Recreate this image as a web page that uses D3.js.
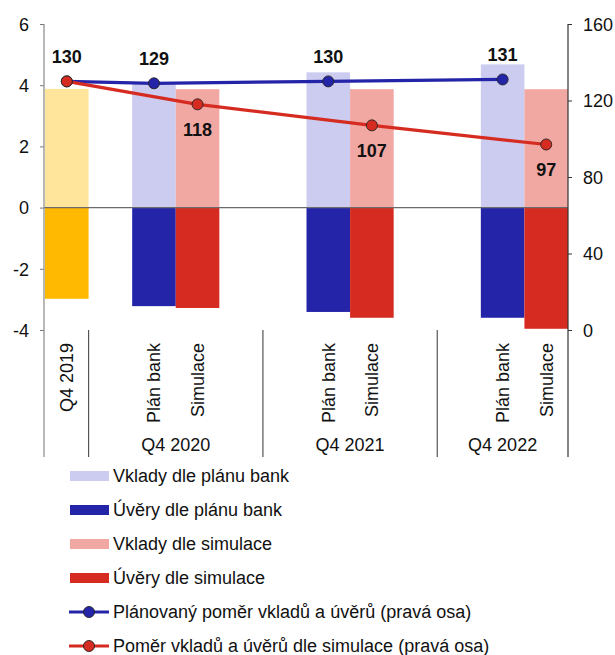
<!DOCTYPE html>
<html>
<head>
<meta charset="utf-8">
<script src="https://cdn.jsdelivr.net/npm/d3@7"></script>
<style>
  html, body { margin: 0; padding: 0; background: #fff; }
  svg { display: block; font-family: Arial, "Liberation Sans", sans-serif; }
</style>
</head>
<body>
<div id="chart"></div>
<script>
// Category slots along the x axis (12 equal bands, some left empty)
const slotLabels = ["Q4 2019", "", "Plán bank", "Simulace", "", "", "Plán bank", "Simulace", "", "", "Plán bank", "Simulace"];
const groupLabels = ["Q4 2020", "Q4 2021", "Q4 2022"];
const groupFirstSlot = [1, 5, 9];
const groupLastSlot = [4, 8, 11];

// Bars (left axis)
const baseSlot = 0;
const depositsBase = 3.88;
const loansBase = -2.98;
const planSlots = [2, 6, 10];
const simSlots = [3, 7, 11];
const depositsPlan = [4.05, 4.42, 4.68];
const loansPlan = [-3.22, -3.41, -3.60];
const depositsSim = [3.87, 3.87, 3.87];
const loansSim = [-3.28, -3.60, -3.96];

// Ratios (right axis)
const ratioPlanSlots = [0, 2, 6, 10];
const ratioPlan = [130, 129, 130, 131];
const ratioSimSlots = [0, 3, 7, 11];
const ratioSim = [130, 118, 107, 97];

const leftTicks = [-4, -2, 0, 2, 4, 6];
const rightTicks = [0, 40, 80, 120, 160];

const legendItems = [
  { label: "Vklady dle plánu bank", color: "#CCCCF0", type: "bar" },
  { label: "Úvěry dle plánu bank", color: "#2424A8", type: "bar" },
  { label: "Vklady dle simulace", color: "#F2A8A2", type: "bar" },
  { label: "Úvěry dle simulace", color: "#D62B20", type: "bar" },
  { label: "Plánovaný poměr vkladů a úvěrů (pravá osa)", color: "#2424A8", type: "line" },
  { label: "Poměr vkladů a úvěrů dle simulace (pravá osa)", color: "#D62B20", type: "line" }
];

const W = 615, H = 655;
const FS = 18;
const svg = d3.select("#chart").append("svg").attr("width", W).attr("height", H);

const x = d3.scaleBand().domain(d3.range(slotLabels.length)).range([45, 568]).padding(0);
const yL = d3.scaleLinear().domain([-4, 6]).range([330, 24]);
const yR = d3.scaleLinear().domain([0, 160]).range([330, 24]);
const axisBottom = 457;

function bar(slot, v, color) {
  svg.append("rect")
    .attr("x", x(slot))
    .attr("width", x.bandwidth())
    .attr("y", v >= 0 ? yL(v) : yL(0))
    .attr("height", Math.abs(yL(v) - yL(0)))
    .attr("fill", color);
}

bar(baseSlot, depositsBase, "#FFE49B");
bar(baseSlot, loansBase, "#FFB900");
planSlots.forEach((s, i) => { bar(s, depositsPlan[i], "#CCCCF0"); bar(s, loansPlan[i], "#2424A8"); });
simSlots.forEach((s, i) => { bar(s, depositsSim[i], "#F2A8A2"); bar(s, loansSim[i], "#D62B20"); });

// zero line
svg.append("line").attr("x1", 44).attr("x2", 568).attr("y1", yL(0)).attr("y2", yL(0))
  .attr("stroke", "#6b6b6b").attr("stroke-width", 1.2);

// left axis (plain hyphen for negatives)
const gL = svg.append("g").attr("transform", "translate(44,0)")
  .call(d3.axisLeft(yL).tickValues(leftTicks).tickSize(4).tickSizeOuter(0).tickFormat(d => String(d)));
gL.select(".domain").remove();
gL.selectAll("line").attr("stroke", "#777");
gL.selectAll("text").attr("font-size", FS).attr("font-family", "Arial, 'Liberation Sans', sans-serif")
  .attr("fill", "#111").attr("x", -15).attr("dy", "0.35em");
svg.append("line").attr("x1", 44).attr("x2", 44).attr("y1", 24).attr("y2", axisBottom)
  .attr("stroke", "#888").attr("stroke-width", 1.2);

// right axis
const gR = svg.append("g").attr("transform", "translate(568,0)")
  .call(d3.axisRight(yR).tickValues(rightTicks).tickSize(4).tickSizeOuter(0).tickFormat(d => String(d)));
gR.select(".domain").remove();
gR.selectAll("line").attr("stroke", "#333");
gR.selectAll("text").attr("font-size", FS).attr("font-family", "Arial, 'Liberation Sans', sans-serif")
  .attr("fill", "#111").attr("x", 15).attr("dy", "0.35em");
svg.append("line").attr("x1", 568).attr("x2", 568).attr("y1", 24).attr("y2", axisBottom)
  .attr("stroke", "#333").attr("stroke-width", 1.2);

// group separators
groupFirstSlot.forEach(s => {
  svg.append("line").attr("x1", x(s)).attr("x2", x(s)).attr("y1", 330).attr("y2", axisBottom)
    .attr("stroke", "#555").attr("stroke-width", 1.2);
});

// rotated slot labels
slotLabels.forEach((lab, i) => {
  if (!lab) return;
  const cx = x(i) + x.bandwidth() / 2;
  svg.append("text")
    .attr("transform", `translate(${cx},343) rotate(-90)`)
    .attr("text-anchor", "end").attr("dy", "0.35em")
    .attr("font-size", FS).attr("fill", "#111").text(lab);
});

// group labels
groupLabels.forEach((lab, i) => {
  const cx = (x(groupFirstSlot[i]) + x(groupLastSlot[i]) + x.bandwidth()) / 2;
  svg.append("text").attr("x", cx).attr("y", 451).attr("text-anchor", "middle")
    .attr("font-size", FS).attr("fill", "#111").text(lab);
});

// ratio lines
const cxs = s => x(s) + x.bandwidth() / 2;
function series(slots, vals, color) {
  const pts = slots.map((s, i) => [cxs(s), yR(vals[i])]);
  svg.append("path").attr("d", d3.line()(pts)).attr("fill", "none")
    .attr("stroke", color).attr("stroke-width", 3.2);
  return pts;
}
const ptsPlan = series(ratioPlanSlots, ratioPlan, "#2424A8");
const ptsSim = series(ratioSimSlots, ratioSim, "#D62B20");
function markers(pts, color) {
  svg.selectAll(null).data(pts).enter().append("circle")
    .attr("cx", d => d[0]).attr("cy", d => d[1]).attr("r", 5.5)
    .attr("fill", color).attr("stroke", "#222").attr("stroke-width", 0.9);
}
markers(ptsPlan, "#2424A8");
markers(ptsSim, "#D62B20");

// value labels
ratioPlan.forEach((v, i) => {
  svg.append("text").attr("x", ptsPlan[i][0]).attr("y", ptsPlan[i][1] - 18)
    .attr("text-anchor", "middle").attr("font-size", FS).attr("font-weight", "bold")
    .attr("fill", "#111").text(v);
});
ratioSim.forEach((v, i) => {
  if (i === 0) return;
  svg.append("text").attr("x", ptsSim[i][0]).attr("y", ptsSim[i][1] + 32)
    .attr("text-anchor", "middle").attr("font-size", FS).attr("font-weight", "bold")
    .attr("fill", "#111").text(v);
});

// legend
legendItems.forEach((it, i) => {
  const cy = 476 + i * 34;
  if (it.type === "bar") {
    svg.append("rect").attr("x", 70).attr("y", cy - 5).attr("width", 39).attr("height", 10).attr("fill", it.color);
  } else {
    svg.append("line").attr("x1", 69).attr("x2", 109).attr("y1", cy).attr("y2", cy)
      .attr("stroke", it.color).attr("stroke-width", 3.2);
    svg.append("circle").attr("cx", 89).attr("cy", cy).attr("r", 5.5)
      .attr("fill", it.color).attr("stroke", "#222").attr("stroke-width", 0.9);
  }
  svg.append("text").attr("x", 113).attr("y", cy).attr("dy", "0.35em")
    .attr("font-size", FS).attr("fill", "#111").text(it.label);
});
</script>
</body>
</html>
